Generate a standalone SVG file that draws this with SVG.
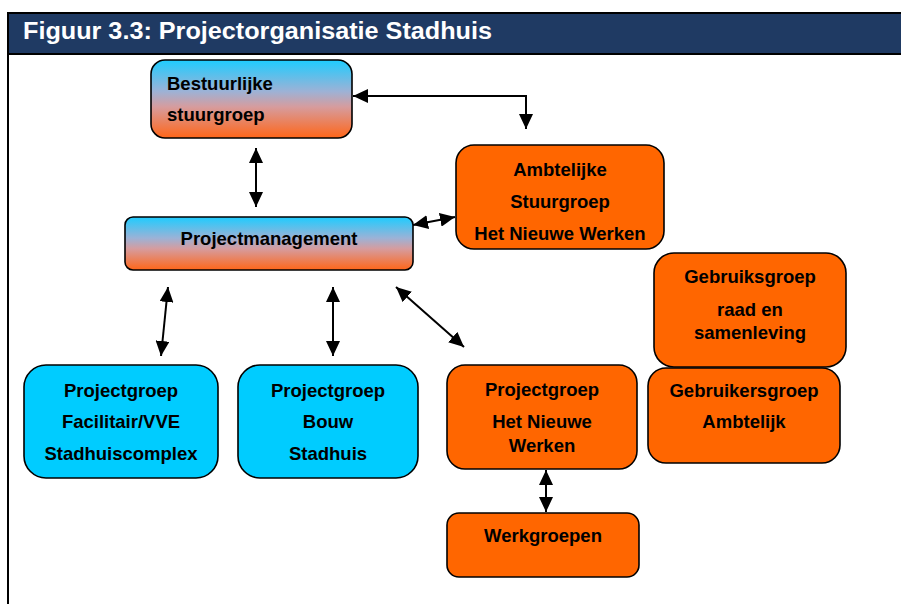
<svg xmlns="http://www.w3.org/2000/svg" width="901" height="604" viewBox="0 0 901 604">
  <style>
    .t { font-family: "Liberation Sans", Arial, sans-serif; font-weight: bold; font-size: 18.5px; fill: #000; }
    .c { text-anchor: middle; }
    .title { font-family: "Liberation Sans", Arial, sans-serif; font-weight: bold; font-size: 23px; fill: #fff; }
    .box { stroke: #000; stroke-width: 1.6; }
    .or { fill: #FF6600; }
    .bl { fill: #00CCFF; }
    .gr { fill: url(#grad); }
    .con { stroke: #000; stroke-width: 2; fill: none; marker-start: url(#ah); marker-end: url(#ah); }
  </style>
  <defs>
    <linearGradient id="grad" x1="0" y1="0" x2="0" y2="1">
      <stop offset="0" stop-color="#1ECCFF"/>
      <stop offset="0.4" stop-color="#9CB2D6"/>
      <stop offset="0.6" stop-color="#D69C9E"/>
      <stop offset="1" stop-color="#FF6619"/>
    </linearGradient>
    <marker id="ah" markerUnits="userSpaceOnUse" markerWidth="16" markerHeight="14" refX="15" refY="7" orient="auto-start-reverse" viewBox="0 0 16 14">
      <path d="M0,0 L15,7 L0,14 Z" fill="#000"/>
    </marker>
  </defs>

  <g id="frame">
    <rect x="8" y="13" width="900" height="41" fill="#1F3A63" stroke="#000" stroke-width="2"/>
    <line x1="8" y1="13" x2="8" y2="604" stroke="#000" stroke-width="2"/>
    <text class="title" x="23" y="39" textLength="469" lengthAdjust="spacingAndGlyphs">Figuur 3.3: Projectorganisatie Stadhuis</text>
  </g>

  <g id="connectors">
    <polyline class="con" points="353,96 526,96 526,129"/>
    <line class="con" x1="256" y1="148" x2="256" y2="207"/>
    <line class="con" x1="413" y1="225" x2="455" y2="217"/>
    <line class="con" x1="168" y1="287" x2="161" y2="356"/>
    <line class="con" x1="333" y1="287" x2="333" y2="356"/>
    <line class="con" x1="396" y1="287" x2="464" y2="347"/>
    <line class="con" x1="546" y1="470" x2="546" y2="512"/>
  </g>

  <g id="bestuurlijke-stuurgroep">
    <rect class="box gr" x="151" y="60" width="201" height="78" rx="14"/>
    <text class="t" x="167" y="90">Bestuurlijke</text>
    <text class="t" x="167" y="121">stuurgroep</text>
  </g>

  <g id="ambtelijke-stuurgroep">
    <rect class="box or" x="456" y="145" width="208" height="104" rx="18"/>
    <text class="t c" x="560" y="176">Ambtelijke</text>
    <text class="t c" x="560" y="208">Stuurgroep</text>
    <text class="t c" x="560" y="240">Het Nieuwe Werken</text>
  </g>

  <g id="projectmanagement">
    <rect class="box gr" x="125" y="217" width="288" height="53" rx="8"/>
    <text class="t c" x="269" y="245">Projectmanagement</text>
  </g>

  <g id="gebruiksgroep">
    <rect class="box or" x="654" y="253" width="192" height="114" rx="20"/>
    <text class="t c" x="750" y="283">Gebruiksgroep</text>
    <text class="t c" x="750" y="316">raad en</text>
    <text class="t c" x="750" y="339">samenleving</text>
  </g>

  <g id="gebruikersgroep">
    <rect class="box or" x="648" y="368" width="192" height="95" rx="18"/>
    <text class="t c" x="744" y="397">Gebruikersgroep</text>
    <text class="t c" x="744" y="428">Ambtelijk</text>
  </g>

  <g id="pg-facilitair">
    <rect class="box bl" x="24" y="365" width="194" height="113" rx="22"/>
    <text class="t c" x="121" y="397">Projectgroep</text>
    <text class="t c" x="121" y="428">Facilitair/VVE</text>
    <text class="t c" x="121" y="460">Stadhuiscomplex</text>
  </g>

  <g id="pg-bouw">
    <rect class="box bl" x="238" y="365" width="180" height="113" rx="22"/>
    <text class="t c" x="328" y="397">Projectgroep</text>
    <text class="t c" x="328" y="428">Bouw</text>
    <text class="t c" x="328" y="460">Stadhuis</text>
  </g>

  <g id="pg-hnw">
    <rect class="box or" x="447" y="365" width="190" height="104" rx="18"/>
    <text class="t c" x="542" y="396">Projectgroep</text>
    <text class="t c" x="542" y="428">Het Nieuwe</text>
    <text class="t c" x="542" y="452">Werken</text>
  </g>

  <g id="werkgroepen">
    <rect class="box or" x="447" y="513" width="192" height="64" rx="12"/>
    <text class="t c" x="543" y="542">Werkgroepen</text>
  </g>
</svg>
